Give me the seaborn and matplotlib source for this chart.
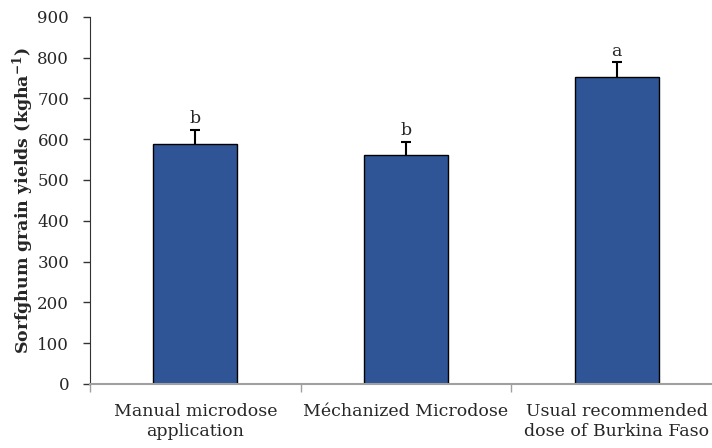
import numpy as np
import pandas as pd
import matplotlib
matplotlib.use("Agg")
import matplotlib.pyplot as plt
import seaborn as sns

# Data
treatments = [
    "Manual microdose\napplication",
    "Méchanized Microdose",
    "Usual recommended\ndose of Burkina Faso",
]
yields = [588, 561, 753]
errors = [34, 33, 35]
letters = ["b", "b", "a"]

df = pd.DataFrame({"treatment": treatments, "yield": yields})

sns.set_style("ticks")
plt.rcParams["font.family"] = ["DejaVu Serif"]
plt.rcParams["mathtext.fontset"] = "dejavuserif"
plt.rcParams["text.color"] = "#262626"

fig = plt.figure(figsize=(7.12, 4.48), dpi=100)
ax = fig.add_axes([0.1264, 0.1429, 0.8736, 0.8198])

sns.barplot(
    data=df,
    x="treatment",
    y="yield",
    color="#2F5597",
    saturation=1,
    edgecolor="black",
    linewidth=1,
    width=0.4,
    errorbar=None,
    ax=ax,
)

# Upper error bars only
x = np.arange(len(treatments))
eb = ax.errorbar(
    x,
    yields,
    yerr=[np.zeros(len(errors)), errors],
    fmt="none",
    ecolor="black",
    elinewidth=1.5,
    capsize=3.5,
    capthick=1.5,
)
# hide the cap sitting on the bar top
for cap in eb[1]:
    if np.allclose(cap.get_ydata(), yields):
        cap.set_visible(False)

# Significance letters
for i, (v, e, l) in enumerate(zip(yields, errors, letters)):
    ax.text(i, v + e + 7, l, ha="center", va="bottom", fontsize=12.5)

ax.set_ylim(0, 900)
ax.set_yticks(range(0, 901, 100))
ax.set_xlim(-0.5, 2.5 - 10 / 210)

ax.set_xlabel("")
ax.set_ylabel(r"Sorfghum grain yields (kgha$^{\mathbf{-1}}$)", fontsize=12.5,
              fontweight="bold", labelpad=1)

# Category boundary ticks on the x axis
ax.set_xticks([-0.5, 0.5, 1.5], minor=True)
ax.tick_params(axis="x", which="major", length=0, pad=14, labelsize=12.5,
               labelcolor="#262626")
ax.tick_params(axis="x", which="minor", length=6, color="#a0a0a0", width=1)
ax.tick_params(axis="y", length=5, width=1, color="#333333", labelsize=12,
               labelcolor="#262626", pad=10)

sns.despine(ax=ax, top=True, right=True)
ax.spines["left"].set_color("#333333")
ax.spines["bottom"].set_color("#a0a0a0")
ax.spines["bottom"].set_linewidth(1.5)

fig.savefig("out.png", dpi=100)
